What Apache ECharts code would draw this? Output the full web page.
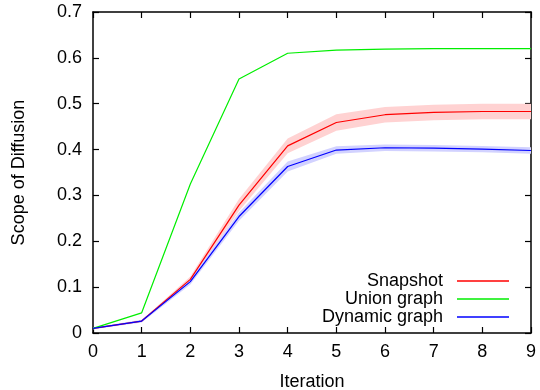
<!DOCTYPE html>
<html>
<head>
<meta charset="utf-8">
<script src="https://cdn.jsdelivr.net/npm/echarts@6/dist/echarts.min.js"></script>
<style>
html, body { margin: 0; padding: 0; background: #fff; }
#chart { width: 540px; height: 390px; }
</style>
</head>
<body>
<div id="chart"></div>
<script>
var iterations = ['0', '1', '2', '3', '4', '5', '6', '7', '8', '9'];
var snapshot = [0.010, 0.026, 0.117, 0.279, 0.408, 0.459, 0.476, 0.481, 0.483, 0.483];
var snapshotLow = [0.008, 0.024, 0.111, 0.266, 0.392, 0.441, 0.459, 0.464, 0.466, 0.466];
var snapshotHigh = [0.012, 0.028, 0.123, 0.292, 0.424, 0.477, 0.493, 0.498, 0.500, 0.500];
var unionGraph = [0.010, 0.044, 0.325, 0.554, 0.610, 0.617, 0.619, 0.620, 0.620, 0.620];
var dynamicGraph = [0.010, 0.026, 0.112, 0.254, 0.363, 0.399, 0.404, 0.403, 0.401, 0.398];
var dynamicLow = [0.008, 0.023, 0.106, 0.245, 0.352, 0.391, 0.397, 0.396, 0.394, 0.391];
var dynamicHigh = [0.012, 0.029, 0.118, 0.263, 0.374, 0.407, 0.411, 0.410, 0.408, 0.405];

function diff(hi, lo) {
  return hi.map(function (v, i) { return +(v - lo[i]).toFixed(4); });
}

var font = "'Liberation Sans', Arial, sans-serif";
var frame = { show: true, onZero: false, lineStyle: { color: '#000', width: 1.5 } };
var tick = { show: true, inside: true, length: 6, alignWithLabel: true, lineStyle: { color: '#000', width: 1.2 } };

var chart = echarts.init(document.getElementById('chart'));
var bandLine = { opacity: 0, width: 0 };

var legendBase = {
  orient: 'vertical', right: 31, align: 'right', icon: 'rect', padding: 0,
  itemWidth: 52, itemHeight: 1.5, itemGap: 0,
  textStyle: { fontFamily: font, fontSize: 18, color: '#000', padding: [0, 9, 0, 0] },
  selectedMode: false
};

chart.setOption({
  animation: false,
  backgroundColor: '#fff',
  grid: { left: 93, right: 9, top: 12, bottom: 57, containLabel: false, outerBoundsMode: 'none' },
  legend: [
    Object.assign({}, legendBase, { data: ['Snapshot'], top: 272 }),
    Object.assign({}, legendBase, { data: ['Union graph'], top: 290 }),
    Object.assign({}, legendBase, { data: ['Dynamic graph'], top: 308 })
  ],
  xAxis: [{
    type: 'category', data: iterations, boundaryGap: false, position: 'bottom',
    name: 'Iteration', nameLocation: 'middle', nameGap: 40,
    nameTextStyle: { fontFamily: font, fontSize: 18, color: '#000' },
    axisLine: frame, axisTick: tick,
    axisLabel: { fontFamily: font, fontSize: 18, color: '#000', margin: 10 },
    splitLine: { show: false }
  }, {
    type: 'category', data: iterations, boundaryGap: false, position: 'top',
    axisLine: frame, axisTick: tick, axisLabel: { show: false }, splitLine: { show: false }
  }],
  yAxis: [{
    type: 'value', min: 0, max: 0.7, interval: 0.1, position: 'left',
    name: 'Scope of Diffusion', nameLocation: 'middle', nameGap: 65, nameRotate: 90,
    nameTextStyle: { fontFamily: font, fontSize: 18, color: '#000' },
    axisLine: frame, axisTick: tick,
    axisLabel: {
      fontFamily: font, fontSize: 18, color: '#000', margin: 11,
      formatter: function (v) { return v === 0 ? '0' : v.toFixed(1); }
    },
    splitLine: { show: false }
  }, {
    type: 'value', min: 0, max: 0.7, interval: 0.1, position: 'right',
    axisLine: frame, axisTick: tick, axisLabel: { show: false }, splitLine: { show: false }
  }],
  series: [
    { name: 'snapLow', type: 'line', stack: 'snapBand', data: snapshotLow, symbol: 'none', lineStyle: bandLine, silent: true, z: 1 },
    { name: 'snapBand', type: 'line', stack: 'snapBand', data: diff(snapshotHigh, snapshotLow), symbol: 'none', lineStyle: bandLine,
      areaStyle: { color: 'rgb(255,210,210)', opacity: 1 }, silent: true, z: 1 },
    { name: 'dynLow', type: 'line', stack: 'dynBand', data: dynamicLow, symbol: 'none', lineStyle: bandLine, silent: true, z: 1 },
    { name: 'dynBand', type: 'line', stack: 'dynBand', data: diff(dynamicHigh, dynamicLow), symbol: 'none', lineStyle: bandLine,
      areaStyle: { color: 'rgb(210,210,255)', opacity: 1 }, silent: true, z: 2 },
    { name: 'Snapshot', type: 'line', data: snapshot, symbol: 'none', color: '#ff0000', lineStyle: { width: 1.2, color: '#ff0000' }, z: 3 },
    { name: 'Union graph', type: 'line', data: unionGraph, symbol: 'none', color: '#00ee00', lineStyle: { width: 1.2, color: '#00ee00' }, z: 3 },
    { name: 'Dynamic graph', type: 'line', data: dynamicGraph, symbol: 'none', color: '#0000ff', lineStyle: { width: 1.2, color: '#0000ff' }, z: 3 }
  ]
});
</script>
</body>
</html>
